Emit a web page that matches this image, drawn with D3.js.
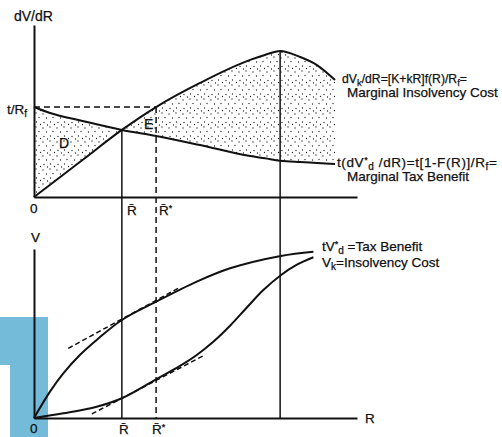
<!DOCTYPE html>
<html><head><meta charset="utf-8">
<script src="https://cdn.jsdelivr.net/npm/d3@7"></script>
<style>
body{margin:0;background:#fff}
svg{display:block}
text{font-family:"Liberation Sans",Arial,Helvetica,sans-serif;fill:#111;stroke:#111;stroke-width:0.25px}
</style>
</head><body><svg id="c" width="502" height="437"></svg>
<script>
// ---- Top panel: marginal curves (R in 0..100, value in 0..100) ----
const topR = [0, 5, 15, 27.2, 37.8, 51.4, 66.9, 71.5, 76.2, 82.4, 87.6, 93.2];
const marginalTaxBenefit = [52.3, 48.8, 44.2, 39.0, 35.5, 30.2, 23.8, 22.5, 21.1, 20.3, 19.8, 19.2];
const marginalInsolvencyCost = [0, 7.1, 21.5, 39.0, 52.3, 66.3, 79.7, 82.6, 84.9, 81.4, 76.7, 68.0];
const tOverRf = 52.3;
// ---- Bottom panel: totals ----
const taxBenefitR = [0, 4.95, 9.07, 14.2, 19.4, 27.2, 37.8, 50.4, 60.7, 76.4, 86.5];
const taxBenefit = [0, 15.6, 26.4, 37.3, 46.2, 58.0, 68.8, 80.7, 88.6, 95.9, 98.4];
const insolvencyCostR = [0, 9.07, 19.4, 27.2, 37.8, 45.2, 50.4, 55.5, 60.7, 65.9, 71.0, 76.4, 81.4, 86.5];
const insolvencyCost = [0, 2.8, 6.7, 11.7, 22.9, 30.8, 37.3, 45.1, 54.6, 65.4, 75.7, 84.5, 90.7, 95.1];
const tangentTaxR = [10.6, 44.6], tangentTax = [41.2, 76.7];
const tangentCostR = [17.9, 52.9], tangentCost = [2.4, 37.3];
const Rbar = 27.2, Rstar = 37.8, Rpeak = 76.2;

const svg = d3.select("#c");
const x = d3.scaleLinear().domain([0, 100]).range([34, 357]);
const yT = d3.scaleLinear().domain([0, 100]).range([197, 25]);
const yB = d3.scaleLinear().domain([0, 100]).range([418, 249]);

// stipple pattern
const defs = svg.append("defs");
const pat = defs.append("pattern").attr("id", "stip").attr("patternUnits", "userSpaceOnUse")
  .attr("width", 14).attr("height", 14);
[[1,2],[8,1],[4.5,6],[11,5.5],[2,10.5],[8.5,10],[12.5,12.5],[5.5,13]].forEach(p =>
  pat.append("circle").attr("cx", p[0]).attr("cy", p[1]).attr("r", 0.65).attr("fill", "#222"));

// blue block (under the drawing)
svg.append("path").attr("d", "M0,317H48V437H10V365H0Z").attr("fill", "#74bbd9");

const ink = "#111";
// stippled region between marginal curves
const topData = topR.map((r, i) => ({r, b: marginalTaxBenefit[i], c: marginalInsolvencyCost[i]}));
svg.append("path").datum(topData)
  .attr("d", d3.area().x(d => x(d.r)).y0(d => yT(d.b)).y1(d => yT(d.c)).curve(d3.curveMonotoneX))
  .attr("fill", "url(#stip)");

// axes
svg.append("g").attr("transform", `translate(0,${yT(0)})`)
  .call(d3.axisBottom(x).tickValues([]).tickSizeOuter(0));
svg.append("g").attr("transform", `translate(${x(0)},0)`)
  .call(d3.axisLeft(yT).tickValues([]).tickSizeOuter(0));
svg.append("g").attr("transform", `translate(0,${yB(0)})`)
  .call(d3.axisBottom(x).tickValues([]).tickSizeOuter(0));
svg.append("g").attr("transform", `translate(${x(0)},0)`)
  .call(d3.axisLeft(yB).tickValues([]).tickSizeOuter(0));
svg.selectAll(".domain").attr("stroke", ink).attr("stroke-width", 2);

// reference lines
svg.append("line").attr("x1", x(0)).attr("x2", x(Rstar)).attr("y1", yT(tOverRf)).attr("y2", yT(tOverRf))
  .attr("stroke", ink).attr("stroke-width", 1.5).attr("stroke-dasharray", "6,4");
svg.append("line").attr("x1", x(Rbar)).attr("x2", x(Rbar)).attr("y1", yT(marginalInsolvencyCost[3])).attr("y2", yB(0))
  .attr("stroke", ink).attr("stroke-width", 1.5);
svg.append("line").attr("x1", x(Rstar)).attr("x2", x(Rstar)).attr("y1", yT(tOverRf)).attr("y2", yB(0))
  .attr("stroke", ink).attr("stroke-width", 1.5).attr("stroke-dasharray", "6,4");
svg.append("line").attr("x1", x(Rpeak)).attr("x2", x(Rpeak)).attr("y1", yT(marginalInsolvencyCost[8])).attr("y2", yB(0))
  .attr("stroke", ink).attr("stroke-width", 1.5);

// curves
const lineT = d3.line().x(d => x(d[0])).y(d => yT(d[1])).curve(d3.curveMonotoneX);
const lineB = d3.line().x(d => x(d[0])).y(d => yB(d[1])).curve(d3.curveCatmullRom.alpha(0.5));
svg.append("path").datum(topR.map((r, i) => [r, marginalTaxBenefit[i]])).attr("d", lineT)
  .attr("fill", "none").attr("stroke", ink).attr("stroke-width", 2);
svg.append("path").datum(topR.map((r, i) => [r, marginalInsolvencyCost[i]])).attr("d", lineT)
  .attr("fill", "none").attr("stroke", ink).attr("stroke-width", 2);
svg.append("path").datum(taxBenefitR.map((r, i) => [r, taxBenefit[i]])).attr("d", lineB)
  .attr("fill", "none").attr("stroke", ink).attr("stroke-width", 2);
svg.append("path").datum(insolvencyCostR.map((r, i) => [r, insolvencyCost[i]])).attr("d", lineB)
  .attr("fill", "none").attr("stroke", ink).attr("stroke-width", 2);
// tangents
const straightB = d3.line().x(d => x(d[0])).y(d => yB(d[1]));
svg.append("path").datum(tangentTaxR.map((r, i) => [r, tangentTax[i]])).attr("d", straightB)
  .attr("stroke", ink).attr("stroke-width", 1.5).attr("stroke-dasharray", "5,3");
svg.append("path").datum(tangentCostR.map((r, i) => [r, tangentCost[i]])).attr("d", straightB)
  .attr("stroke", ink).attr("stroke-width", 1.5).attr("stroke-dasharray", "5,3");

// text helpers
function txt(xp, yp, size, parts, ls) {
  const t = svg.append("text").attr("x", xp).attr("y", yp).attr("font-size", size);
  if (ls) t.attr("letter-spacing", ls);
  parts.forEach(p => {
    if (typeof p === "string") t.append("tspan").text(p);
    else {
      const s = t.append("tspan").text(p.t);
      if (p.dy) s.attr("dy", p.dy);
      if (p.fs) s.attr("font-size", p.fs);
    }
  });
  return t;
}
txt(14, 21, 14, ["dV/dR"]);
txt(7, 114, 13.5, ["t/R", {t: "f", dy: 3, fs: 10}]);
txt(30, 213, 13.5, ["0"]);
txt(127, 215, 13.5, ["R\u0304"]);
txt(159, 215, 13.5, ["R\u0304", {t: "*", dy: -4, fs: 9}]);
txt(59, 148, 14, ["D"]);
txt(144, 129, 14, ["E"]);
txt(31, 242, 13.5, ["V"]);
txt(30, 433, 13.5, ["0"]);
txt(119, 434, 13.5, ["R\u0304"]);
txt(152, 434, 13.5, ["R\u0304", {t: "*", dy: -4, fs: 9}]);
txt(365, 423, 13.5, ["R"]);

txt(342, 83, 12.2, ["dV", {t: "k", dy: 3, fs: 9.5}, {t: "/dR=[K+kR]f(R)/R", dy: -3}, {t: "f", dy: 3, fs: 9.5}, {t: "=", dy: -3}]);
txt(347, 97, 13.5, ["Marginal Insolvency Cost"]);
txt(337, 167, 13.5, ["t(dV", {t: "*", dy: -4, fs: 9}, {t: "d", dy: 7, fs: 10}, {t: " /dR)=t[1-F(R)]/R", dy: -3}, {t: "f", dy: 3, fs: 10}, {t: "=", dy: -3}], 0.6);
txt(347, 181, 13.5, ["Marginal Tax Benefit"]);
txt(322, 251, 13.5, ["tV", {t: "*", dy: -4, fs: 9}, {t: "d", dy: 7, fs: 10}, {t: " =Tax Benefit", dy: -3}]);
txt(322, 267, 13.5, ["V", {t: "k", dy: 3, fs: 10}, {t: "=Insolvency Cost", dy: -3}]);
</script>
</body></html>
